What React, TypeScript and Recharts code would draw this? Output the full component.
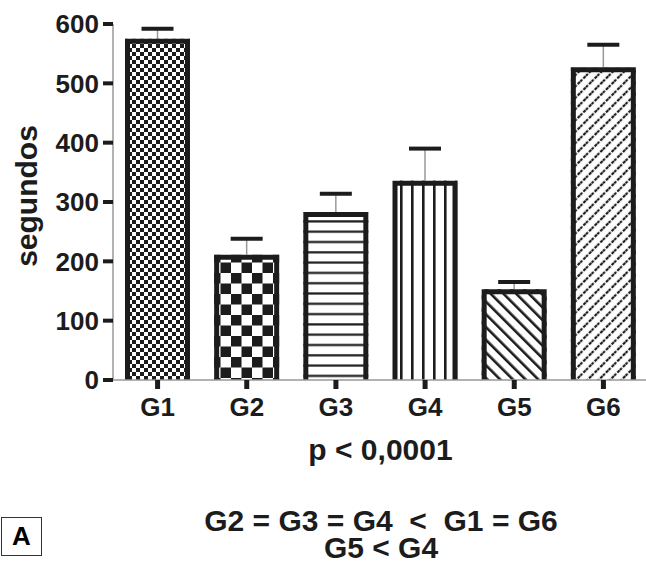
import { BarChart, Bar, XAxis, YAxis } from "recharts";

const groups = ["G1", "G2", "G3", "G4", "G5", "G6"];
const times = [575, 211, 283, 336, 153, 527];
const sems = [17, 27, 31, 54, 12, 38];
const yTicks = [0, 100, 200, 300, 400, 500, 600];
const patterns = ["chkSmall", "chkBig", "hLines", "vLines", "diagDown", "diagUp"];

const data = groups.map((g, i) => ({ name: g, time: times[i], sem: sems[i] }));

const font = "'Liberation Sans', Arial, sans-serif";
const ink = "#1c1c1c";

function BarShape(p: any) {
  const { x, y, width, height, index, payload } = p;
  const k = height / payload.time;
  const top = y - payload.sem * k;
  const cx = x + width / 2;
  const s = 5;
  return (
    <g>
      <line x1={cx} x2={cx} y1={y} y2={top} stroke="#999" strokeWidth={1.5} />
      <line x1={cx - 16} x2={cx + 16} y1={top} y2={top} stroke={ink} strokeWidth={4} />
      <rect x={x} y={y} width={width} height={height} fill={`url(#${patterns[index]})`} />
      <path
        d={`M${x + s / 2},${y + height} V${y + s / 2} H${x + width - s / 2} V${y + height}`}
        fill="none"
        stroke={ink}
        strokeWidth={s}
      />
    </g>
  );
}

function YLabel(props: any) {
  const vb = props.viewBox;
  const cy = vb.y + vb.height / 2 - 6;
  return (
    <text
      x={26}
      y={cy}
      transform={`rotate(-90 26 ${cy})`}
      textAnchor="middle"
      dominantBaseline="central"
      fontFamily={font}
      fontWeight="bold"
      fontSize={30}
      fill={ink}
    >
      segundos
    </text>
  );
}

export default function App() {
  return (
    <div style={{ position: "absolute", left: 0, top: 0, width: 646, height: 566, background: "#fff", overflow: "hidden" }}>
      <BarChart width={648} height={566} data={data} margin={{ top: 24, right: 0, bottom: 106, left: 0 }} barSize={65}>
        <defs>
          <pattern id="chkSmall" width={8} height={8} patternUnits="userSpaceOnUse">
            <rect width={8} height={8} fill="#fff" />
            <rect width={4} height={4} fill={ink} />
            <rect x={4} y={4} width={4} height={4} fill={ink} />
          </pattern>
          <pattern id="chkBig" width={21} height={21} patternUnits="userSpaceOnUse">
            <rect width={21} height={21} fill="#fff" />
            <rect width={10.5} height={10.5} fill={ink} />
            <rect x={10.5} y={10.5} width={10.5} height={10.5} fill={ink} />
          </pattern>
          <pattern id="hLines" width={10} height={10.3} patternUnits="userSpaceOnUse">
            <rect width={10} height={10.3} fill="#fff" />
            <rect y={4} width={10} height={2.2} fill={ink} />
          </pattern>
          <pattern id="vLines" width={11} height={10} patternUnits="userSpaceOnUse">
            <rect width={11} height={10} fill="#fff" />
            <rect x={4} width={2.6} height={10} fill={ink} />
          </pattern>
          <pattern id="diagDown" width={9} height={9} patternUnits="userSpaceOnUse" patternTransform="rotate(-45)">
            <rect width={9} height={9} fill="#fff" />
            <rect x={3} width={2.6} height={9} fill={ink} />
          </pattern>
          <pattern id="diagUp" width={8} height={8} patternUnits="userSpaceOnUse" patternTransform="rotate(45)">
            <rect width={8} height={8} fill="#fff" />
            <line x1={4} x2={4} y1={0} y2={8} stroke={ink} strokeWidth={2.2} strokeDasharray="3 1.4" />
          </pattern>
        </defs>
        <XAxis
          dataKey="name"
          height={80}
          axisLine={{ stroke: "#999", strokeWidth: 1.5 }}
          tickLine={{ stroke: ink, strokeWidth: 5 }}
          tickSize={9}
          tickMargin={9}
          tick={{ fill: ink, fontSize: 26, fontWeight: "bold", fontFamily: font }}
          label={{
            value: "p < 0,0001",
            position: "insideBottom",
            offset: 0,
            fill: ink,
            fontSize: 30,
            fontWeight: "bold",
            fontFamily: font,
          }}
        />
        <YAxis
          width={113}
          domain={[0, 600]}
          ticks={yTicks}
          interval={0}
          axisLine={{ stroke: "#999", strokeWidth: 1.5 }}
          tickLine={{ stroke: ink, strokeWidth: 4 }}
          tickSize={10}
          tickMargin={4}
          tick={{ fill: ink, fontSize: 26, fontWeight: "bold", fontFamily: font }}
          label={YLabel}
        />
        <Bar dataKey="time" shape={BarShape} isAnimationActive={false} />
      </BarChart>
      <div
        style={{
          position: "absolute",
          left: 1,
          top: 517,
          width: 41,
          height: 39,
          border: "1px solid #333",
          boxSizing: "border-box",
          fontFamily: font,
          fontWeight: "bold",
          fontSize: 26,
          color: "#000",
          display: "flex",
          alignItems: "center",
          justifyContent: "center",
        }}
      >
        A
      </div>
      <div
        style={{
          position: "absolute",
          left: 0,
          width: 762,
          top: 507,
          textAlign: "center",
          whiteSpace: "pre",
          fontFamily: font,
          fontWeight: "bold",
          fontSize: 30,
          lineHeight: "27px",
          color: ink,
        }}
      >
        {"G2 = G3 = G4  <  G1 = G6\nG5 < G4"}
      </div>
    </div>
  );
}
